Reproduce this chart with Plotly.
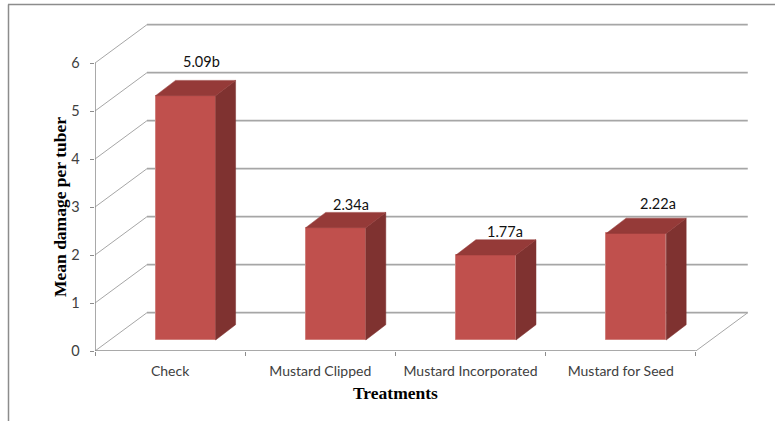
import plotly.graph_objects as go

# Chart values
treatments = ["Check", "Mustard Clipped", "Mustard Incorporated", "Mustard for Seed"]
mean_damage = [5.09, 2.34, 1.77, 2.22]
letter_groups = ["b", "a", "a", "a"]
y_levels = [0, 1, 2, 3, 4, 5, 6]

# Oblique projection used for the pseudo-3D box (axis units)
WALL_DX, WALL_DY = 0.346, 0.798
BAR_DX, BAR_DY = 0.133, 0.319
BAR_WIDTH = 0.40
BAR_SHIFT, BAR_BASE = 0.103, 0.229
N = len(treatments)

# Plot area in pixels
W, H = 775, 421
M_L, M_R, M_T, M_B = 95, 20, 20, 70
PW, PH = W - M_L - M_R, H - M_T - M_B

GRID = "#A6A6A6"
AXIS = "#8C8C8C"
FRONT, SIDE, TOP = "#C0504D", "#7F3230", "#953A38"
TITLE_FONT = dict(family="Liberation Serif", size=17.5, color="#000000")


def px(x):
    return (x - M_L) / PW


def py(y):
    return (H - M_B - y) / PH


centers = [i + 0.5 for i in range(N)]
bar_x = [c + BAR_SHIFT for c in centers]
fig = go.Figure()

# Front faces of the columns
fig.add_trace(go.Bar(
    x=bar_x, y=mean_damage, base=BAR_BASE, width=BAR_WIDTH,
    marker=dict(color=FRONT, line=dict(color="#D0807C", width=1)),
    hoverinfo="skip", showlegend=False,
))

# Side and top faces derived from each value
for x, v in zip(bar_x, mean_damage):
    left, right = x - BAR_WIDTH / 2, x + BAR_WIDTH / 2
    top = BAR_BASE + v
    fig.add_trace(go.Scatter(
        x=[right, right + BAR_DX, right + BAR_DX, right, right],
        y=[BAR_BASE, BAR_BASE + BAR_DY, top + BAR_DY, top, BAR_BASE],
        mode="lines", fill="toself", fillcolor=SIDE, line=dict(color=SIDE, width=0.5),
        hoverinfo="skip", showlegend=False,
    ))
    fig.add_trace(go.Scatter(
        x=[left, left + BAR_DX, right + BAR_DX, right, left],
        y=[top, top + BAR_DY, top + BAR_DY, top, top],
        mode="lines", fill="toself", fillcolor=TOP, line=dict(color=TOP, width=0.5),
        hoverinfo="skip", showlegend=False,
    ))

shapes = []
# Side wall diagonals and back wall gridlines
for k in y_levels:
    shapes.append(dict(type="line", layer="below", xref="x", yref="y", x0=0, y0=k,
                       x1=WALL_DX, y1=k + WALL_DY, line=dict(color=GRID, width=1)))
    shapes.append(dict(type="line", layer="below", xref="x", yref="y", x0=WALL_DX, y0=k + WALL_DY,
                       x1=N + WALL_DX, y1=k + WALL_DY, line=dict(color=GRID, width=1.8)))
# Axis lines and the right-hand floor edge
shapes.append(dict(type="line", layer="below", xref="x", yref="y", x0=0, y0=0, x1=0, y1=6,
                   line=dict(color=AXIS, width=1.5)))
shapes.append(dict(type="line", layer="below", xref="x", yref="y", x0=0, y0=0, x1=N, y1=0,
                   line=dict(color=AXIS, width=1.5)))
shapes.append(dict(type="line", layer="below", xref="x", yref="y", x0=N, y0=0,
                   x1=N + WALL_DX, y1=WALL_DY, line=dict(color=GRID, width=1)))
# Chart frame, open on the right and at the bottom
shapes.append(dict(type="line", xref="paper", yref="paper", x0=px(8), y0=py(4.5),
                   x1=px(W), y1=py(4.5), line=dict(color=AXIS, width=1.5)))
shapes.append(dict(type="line", xref="paper", yref="paper", x0=px(8.5), y0=py(4.5),
                   x1=px(8.5), y1=py(H), line=dict(color=AXIS, width=1.5)))

# Value labels sit just above each column; offsets in pixels
label_offsets = [(16, -19), (15, -8), (19, -8), (22, -15)]
annotations = []
for x, v, g, (ox, oy) in zip(bar_x, mean_damage, letter_groups, label_offsets):
    annotations.append(dict(
        x=x, y=BAR_BASE + v + BAR_DY, xref="x", yref="y", text=f"{v:.2f}{g}",
        showarrow=False, xanchor="center", yanchor="middle", xshift=ox, yshift=-oy,
        font=dict(family="Lato", size=14.5, color="#111111"),
    ))

# Axis titles
annotations.append(dict(
    x=px(395), y=py(393), xref="paper", yref="paper", text="<b>Treatments</b>",
    showarrow=False, xanchor="center", yanchor="middle", font=TITLE_FONT,
))
annotations.append(dict(
    x=px(60), y=py(207), xref="paper", yref="paper", text="<b>Mean damage per tuber</b>",
    showarrow=False, xanchor="center", yanchor="middle", textangle=-90, font=TITLE_FONT,
))

fig.update_layout(
    width=W, height=H,
    margin=dict(l=M_L, r=M_R, t=M_T, b=M_B, autoexpand=False),
    paper_bgcolor="white", plot_bgcolor="white",
    bargap=0, shapes=shapes, annotations=annotations, showlegend=False,
    xaxis=dict(
        range=[0, PW / 150.2], showgrid=False, zeroline=False, showline=False,
        tickmode="array", tickvals=centers, ticktext=treatments,
        ticks="outside", ticklen=7, tickcolor="rgba(0,0,0,0)",
        tickfont=dict(family="Lato", size=14, color="#404040"),
        minor=dict(ticks="outside", ticklen=4, tickcolor=AXIS, tick0=0, dtick=1, showgrid=False),
    ),
    yaxis=dict(
        range=[0, PH / 48], showgrid=False, zeroline=False, showline=False,
        tickmode="array", tickvals=y_levels,
        # Non-breaking spaces hold the digits clear of the tick marks
        ticktext=[f"{k}\u00a0\u00a0" for k in y_levels],
        ticks="outside", ticklen=4, tickcolor=AXIS,
        tickfont=dict(family="Lato", size=14.5, color="#404040"),
    ),
)

fig.write_html("out.html")
